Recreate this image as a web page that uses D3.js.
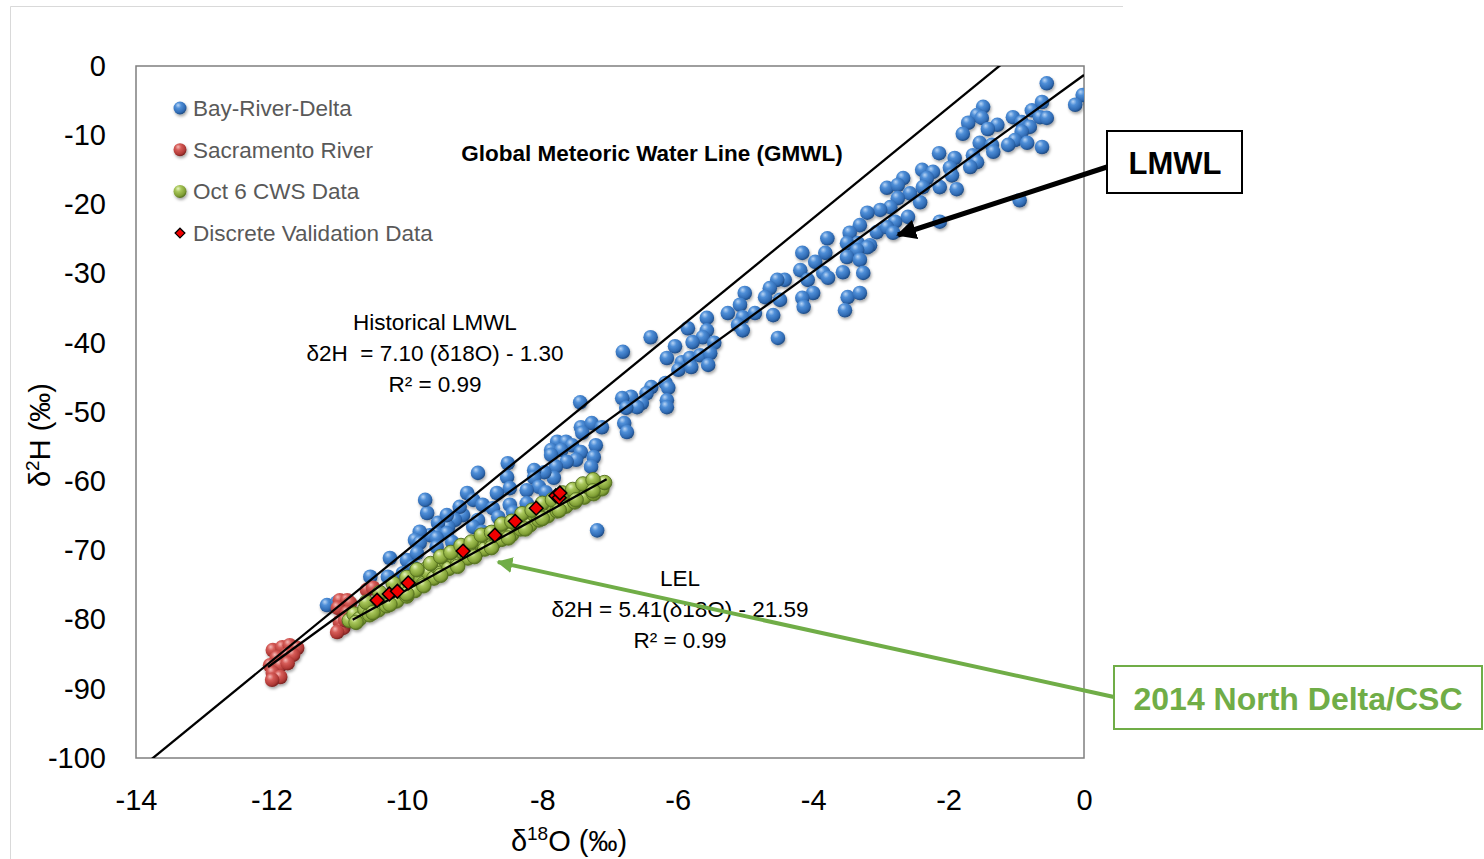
<!DOCTYPE html>
<html>
<head>
<meta charset="utf-8">
<script src="https://cdn.jsdelivr.net/npm/d3@7"></script>
<style>
  body { margin: 0; background: #fff; }
  text { font-family: "Liberation Sans", Arial, sans-serif; }
</style>
</head>
<body>
<script>
// Bay-River-Delta (blue)
var bayX = [-0.55,-0.02,-0.13,-1.49,-1.58,-1.51,-1.71,-1.79,-1.28,-1.42,-1.05,-0.77,-0.62,-0.65,-0.55,-0.92,-0.80,-0.92,-1.02,-1.12,-0.84,-0.62,-1.54,-1.36,-1.34,-1.64,-1.58,-1.68,-1.91,-1.98,-1.95,-2.14,-2.39,-2.23,-2.32,-2.67,-2.91,-2.75,-2.13,-2.38,-1.88,-2.57,-2.75,-2.42,-2.86,-3.01,-3.20,-2.60,-2.79,-3.31,-3.46,-3.06,-2.91,-2.82,-2.13,-0.95,-3.34,-3.16,-3.50,
  -3.20,-3.35,-3.50,-3.31,-3.26,-3.56,-3.79,-3.82,-3.97,-4.16,-4.19,-4.08,-3.85,-3.78,-4.00,-4.16,-4.14,-3.49,-3.31,-3.53,-4.42,-4.53,-4.64,-4.71,-4.49,-5.01,-5.08,-5.26,-5.04,-4.86,-5.11,-5.04,-4.59,-4.52,-5.57,-5.85,-5.57,-5.63,-5.78,-5.46,-6.04,-6.16,-5.94,-5.82,-5.67,-5.52,-5.99,-5.80,-5.55,-6.40,-6.81,-6.39,-6.18,-6.14,-6.46,-6.69,-6.82,-6.53,-6.16,-6.16,
  -7.44,-6.60,-6.76,-6.79,-6.75,-7.43,-7.27,-7.12,-7.41,-7.78,-7.65,-7.56,-7.87,-7.72,-7.43,-7.21,-7.24,-7.28,-7.50,-7.64,-7.87,-7.80,-7.83,-7.97,-8.12,-8.12,-8.05,-7.95,-8.23,-8.51,-8.52,-8.48,-8.95,-8.67,-9.11,-9.02,-8.88,-8.48,-8.23,-8.43,-8.73,-8.65,-8.95,-9.17,-9.22,-9.29,-9.39,-9.02,-8.89,-9.54,-9.70,-9.73,-9.56,-9.66,-7.19,
  -9.41,-9.81,-9.41,-9.88,-9.81,-9.56,-9.56,-9.33,-10.25,-10.00,-9.85,-9.91,-10.54,-10.28,-10.06,-11.18,-11.03,-10.91];
var bayY = [-2.5,-4.2,-5.6,-5.9,-7.1,-7.5,-8.2,-9.8,-8.5,-9.1,-7.4,-6.4,-5.2,-7.4,-7.5,-8.1,-8.8,-9.5,-10.7,-11.4,-11.1,-11.7,-11.1,-11.4,-12.4,-12.9,-13.9,-14.6,-13.3,-14.7,-15.8,-12.6,-15.0,-15.3,-16.2,-16.2,-17.6,-17.2,-17.5,-17.5,-17.8,-18.4,-19.1,-19.7,-20.4,-20.8,-21.2,-21.8,-22.5,-23.0,-24.1,-24.0,-23.3,-24.1,-22.5,-19.4,-25.6,-25.9,-25.6,
  -26.2,-26.6,-27.6,-28.0,-29.9,-29.8,-24.9,-27.0,-28.3,-27.0,-29.5,-30.9,-29.9,-30.6,-32.8,-33.5,-34.8,-33.4,-32.8,-35.3,-30.9,-30.9,-32.1,-33.4,-33.8,-32.8,-34.5,-35.7,-36.3,-35.7,-37.4,-38.2,-36.0,-39.3,-36.4,-37.9,-38.2,-39.2,-39.9,-40.0,-40.5,-42.2,-42.8,-42.2,-41.8,-41.5,-43.9,-43.5,-43.2,-39.2,-41.3,-46.4,-45.8,-46.5,-47.3,-47.8,-48.0,-48.7,-48.3,-49.3,
  -48.6,-49.3,-49.4,-51.6,-52.9,-52.2,-51.6,-52.2,-53.0,-54.3,-54.3,-54.8,-55.5,-55.5,-55.8,-54.8,-56.5,-57.9,-56.9,-57.2,-56.2,-57.9,-59.5,-58.7,-58.4,-59.5,-60.8,-61.6,-61.3,-57.4,-59.4,-61.0,-58.8,-61.7,-61.7,-62.7,-63.4,-63.4,-63.2,-64.5,-63.9,-65.2,-65.6,-64.9,-63.7,-65.6,-66.6,-66.6,-67.3,-66.0,-64.6,-62.7,-67.5,-67.8,-67.1,
  -64.9,-67.3,-67.5,-68.5,-68.9,-68.2,-69.5,-68.8,-71.1,-71.4,-70.4,-72.4,-73.8,-73.8,-73.3,-77.9,-77.5,-78.6];

// Sacramento River (red)
var sacX = [-11.98,-11.84,-11.73,-11.62,-11.92,-11.77,-11.68,-12.02,-11.87,-11.76,-11.98,-11.87,-11.99,
  -10.99,-10.88,-10.84,-11.02,-10.88,-10.99,-10.94,-11.03,-10.59,-10.50,-10.91];
var sacY = [-84.4,-84.0,-83.7,-84.1,-85.5,-85.1,-85.1,-86.6,-86.6,-86.3,-87.7,-88.3,-88.7,
  -77.2,-77.2,-77.6,-78.3,-79.0,-80.3,-81.2,-81.8,-75.7,-75.4,-80.1];

// Oct 6 CWS Data (green)
var cwsX = [-10.85,-10.78,-10.70,-10.62,-10.55,-10.50,-10.42,-10.35,-10.30,-10.22,-10.15,-10.08,-10.00,-9.95,-9.88,-9.80,-9.75,-9.70,-9.68,-9.60,-9.55,-9.50,-9.45,-9.42,-9.38,-9.30,-9.25,-9.18,-9.10,-9.05,-9.00,-8.98,-8.92,-8.85,-8.80,-8.78,-8.72,-8.65,-8.60,-8.52,-8.45,-8.40,-8.32,-8.25,-8.18,-8.12,-8.05,-7.98,-7.92,-7.85,-7.78,-7.72,-7.65,-7.58,-7.52,-7.45,-7.38,-7.30,-7.24,-7.18,-7.12,-7.08,
  -10.60,-10.40,-10.20,-10.00,-9.85,-9.65,-9.50,-9.35,-9.20,-9.05,-8.90,-8.75,-8.60,-8.45,-8.30,-8.15,-8.00,-7.85,-7.70,-7.55,-7.40,-7.25,
  -10.75,-10.50,-10.25,-10.00,-9.75,-9.50,-9.25,-9.00,-8.75,-8.50,-8.25,-8.00,-7.75,-7.50,-7.25];
var cwsY = [-80.1,-79.2,-79.9,-78.5,-79.3,-77.9,-78.6,-77.2,-78.0,-76.4,-77.3,-75.9,-76.6,-74.9,-75.8,-73.9,-74.8,-72.6,-73.2,-74.0,-72.4,-73.3,-71.0,-71.6,-72.6,-71.0,-71.9,-70.2,-71.1,-69.6,-68.9,-70.4,-68.9,-69.8,-67.7,-68.2,-69.0,-67.4,-68.4,-66.9,-67.7,-66.1,-66.9,-65.5,-66.3,-64.8,-65.6,-64.1,-65.0,-63.5,-64.3,-62.8,-63.6,-62.2,-63.0,-61.6,-62.3,-61.0,-61.8,-60.4,-61.1,-60.2,
  -77.5,-76.1,-74.8,-73.9,-72.8,-71.9,-70.9,-70.3,-69.3,-68.8,-67.8,-67.4,-66.2,-65.8,-64.7,-64.2,-63.2,-62.7,-61.7,-61.2,-60.4,-59.8,
  -80.4,-79.0,-77.8,-76.3,-75.1,-73.6,-72.3,-70.9,-69.6,-68.2,-66.9,-65.4,-64.2,-62.7,-61.4];

// Discrete Validation Data (red diamonds)
var valX = [-10.44,-10.26,-10.14,-9.98,-9.17,-8.70,-8.40,-8.09,-7.80,-7.75,-7.74];
var valY = [-77.2,-76.3,-75.9,-74.7,-70.1,-67.8,-65.8,-63.9,-62.1,-62.4,-61.7];

// regression lines: [slope, intercept, xStart, xEnd]
var gmwl = [8.0, 10.0, -14, 0];
var lmwl = [7.10, -1.30, -12.05, 0];
var lel = [5.41, -21.59, -10.8, -7.05];

var xTicks = [-14, -12, -10, -8, -6, -4, -2, 0];
var yTicks = [0, -10, -20, -30, -40, -50, -60, -70, -80, -90, -100];

var legendNames = ["Bay-River-Delta", "Sacramento River", "Oct 6 CWS Data", "Discrete Validation Data"];

var W = 1484, H = 859;
var margin = {top: 66, right: 400, bottom: 101, left: 136};
var width = W - margin.left - margin.right;   // 948
var height = H - margin.top - margin.bottom;  // 692

var svg = d3.select("body").append("svg")
    .attr("width", W)
    .attr("height", H);

var defs = svg.append("defs");

function sphere(id, c0, c1, c2, c3) {
    var gr = defs.append("radialGradient").attr("id", id)
        .attr("cx", "40%").attr("cy", "35%").attr("r", "65%")
        .attr("fx", "35%").attr("fy", "28%");
    gr.append("stop").attr("offset", "0%").attr("stop-color", c0);
    gr.append("stop").attr("offset", "35%").attr("stop-color", c1);
    gr.append("stop").attr("offset", "80%").attr("stop-color", c2);
    gr.append("stop").attr("offset", "100%").attr("stop-color", c3);
}
sphere("gBlue", "#b9d5f5", "#4f8fd8", "#2f6ab3", "#1f4a80");
sphere("gRed", "#f4b8b6", "#d65c58", "#b03936", "#7a2220");
sphere("gGreen", "#e6f3c0", "#a8c65a", "#809f35", "#56711f");

var shadow = defs.append("filter").attr("id", "shadow")
    .attr("x", "-50%").attr("y", "-50%").attr("width", "200%").attr("height", "200%");
shadow.append("feDropShadow").attr("dx", 1).attr("dy", 2)
    .attr("stdDeviation", 1.5).attr("flood-color", "#000").attr("flood-opacity", 0.35);

defs.append("clipPath").attr("id", "plotClip")
  .append("rect").attr("width", width).attr("height", height);

function arrowHead(id, color) {
    defs.append("marker").attr("id", id)
        .attr("viewBox", "0 0 10 10").attr("refX", 9).attr("refY", 5)
        .attr("markerWidth", 4).attr("markerHeight", 4)
        .attr("markerUnits", "strokeWidth")
        .attr("orient", "auto")
      .append("path").attr("d", "M0,0 L10,5 L0,10 Z").attr("fill", color);
}
arrowHead("arrBlack", "#000");
arrowHead("arrGreen", "#70ad47");

// outer frame (light)
svg.append("path")
    .attr("d", "M10.5," + H + " L10.5,6.5 L1123,6.5")
    .attr("fill", "none").attr("stroke", "#d9d9d9").attr("stroke-width", 1);

var g = svg.append("g")
    .attr("transform", "translate(" + margin.left + "," + margin.top + ")");

var x = d3.scaleLinear().domain([-14, 0]).range([0, width]);
var y = d3.scaleLinear().domain([-100, 0]).range([height, 0]);

var fmt = function(d) { return String(d); };   // plain hyphen minus like the original

// axes, labels only
var yAxis = d3.axisLeft(y).tickValues(yTicks).tickFormat(fmt).tickSize(0).tickPadding(30);
g.append("g").attr("class", "y axis").call(yAxis)
  .call(function(s) { s.select(".domain").remove(); })
  .selectAll("text")
    .style("font-family", "'Liberation Sans', Arial, sans-serif")
    .attr("font-size", "29px").attr("fill", "#000");

var xAxis = d3.axisBottom(x).tickValues(xTicks).tickFormat(fmt).tickSize(0).tickPadding(31);
g.append("g").attr("class", "x axis")
  .attr("transform", "translate(0," + height + ")")
  .call(xAxis)
  .call(function(s) { s.select(".domain").remove(); })
  .selectAll("text")
    .style("font-family", "'Liberation Sans', Arial, sans-serif")
    .attr("font-size", "29px").attr("fill", "#000");

// plot border
g.append("rect")
    .attr("width", width).attr("height", height)
    .attr("fill", "none").attr("stroke", "#7f7f7f").attr("stroke-width", 1.5);

var plot = g.append("g").attr("clip-path", "url(#plotClip)");

function dots(xs, ys, fill, stroke) {
    var pts = xs.map(function(v, i) { return {x: v, y: ys[i]}; });
    plot.append("g").attr("filter", "url(#shadow)")
      .selectAll("circle").data(pts).enter()
      .append("circle")
        .attr("cx", function(d) { return x(d.x); })
        .attr("cy", function(d) { return y(d.y); })
        .attr("r", 7.3)
        .attr("fill", fill)
        .attr("stroke", stroke)
        .attr("stroke-width", stroke === "none" ? 0 : 0.9);
}
dots(bayX, bayY, "url(#gBlue)", "none");
dots(sacX, sacY, "url(#gRed)", "none");
dots(cwsX, cwsY, "url(#gGreen)", "#55701f");

// regression lines
var line = d3.line().x(function(d) { return x(d[0]); }).y(function(d) { return y(d[1]); });
[gmwl, lmwl, lel].forEach(function(p) {
    var pts = [[p[2], p[0] * p[2] + p[1]], [p[3], p[0] * p[3] + p[1]]];
    plot.append("path").datum(pts)
        .attr("d", line)
        .attr("fill", "none").attr("stroke", "#000").attr("stroke-width", 2.3);
});

// validation diamonds
var vals = valX.map(function(v, i) { return {x: v, y: valY[i]}; });
plot.append("g").selectAll("path").data(vals).enter()
  .append("path")
    .attr("d", d3.symbol().type(d3.symbolDiamond2).size(120))
    .attr("transform", function(d) { return "translate(" + x(d.x) + "," + y(d.y) + ")"; })
    .attr("fill", "#f00000").attr("stroke", "#000").attr("stroke-width", 1.5);

// legend
var legend = g.append("g").attr("transform", "translate(44,42)");
var legendFill = ["url(#gBlue)", "url(#gRed)", "url(#gGreen)"];
legendNames.forEach(function(name, i) {
    var row = legend.append("g").attr("transform", "translate(0," + (i * 41.7) + ")");
    if (i < 3) {
        row.append("circle").attr("r", 6.5).attr("fill", legendFill[i])
            .attr("filter", "url(#shadow)");
    } else {
        row.append("path").attr("d", d3.symbol().type(d3.symbolDiamond2).size(60))
            .attr("fill", "#f00000").attr("stroke", "#000").attr("stroke-width", 1.3);
    }
    row.append("text").attr("x", 13).attr("y", 8)
        .attr("font-size", "22.5px").attr("fill", "#595959")
        .text(name);
});

// annotations inside plot
g.append("text").attr("x", 652 - margin.left).attr("y", 161 - margin.top)
    .attr("text-anchor", "middle").attr("font-size", "22.5px").attr("font-weight", "bold")
    .text("Global Meteoric Water Line (GMWL)");

var hist = ["Historical LMWL", "δ2H  = 7.10 (δ18O) - 1.30", "R² = 0.99"];
hist.forEach(function(t, i) {
    g.append("text").attr("x", 435 - margin.left).attr("y", 330 - margin.top + i * 31)
        .attr("text-anchor", "middle").attr("font-size", "22.5px")
        .attr("xml:space", "preserve")
        .text(t);
});
var lelText = ["LEL", "δ2H = 5.41(δ18O) - 21.59", "R² = 0.99"];
lelText.forEach(function(t, i) {
    g.append("text").attr("x", 680 - margin.left).attr("y", 586 - margin.top + i * 31)
        .attr("text-anchor", "middle").attr("font-size", "22.5px")
        .text(t);
});

// axis titles
svg.append("text")
    .attr("transform", "translate(50,435) rotate(-90)")
    .attr("text-anchor", "middle").attr("font-size", "29px")
    .call(function(t) {
        t.append("tspan").text("δ");
        t.append("tspan").attr("dy", -11).attr("font-size", "19px").text("2");
        t.append("tspan").attr("dy", 11).text("H (‰)");
    });
svg.append("text")
    .attr("x", 569).attr("y", 851)
    .attr("text-anchor", "middle").attr("font-size", "29px")
    .call(function(t) {
        t.append("tspan").text("δ");
        t.append("tspan").attr("dy", -11).attr("font-size", "19px").text("18");
        t.append("tspan").attr("dy", 11).text("O (‰)");
    });

// callout: LMWL
svg.append("line")
    .attr("x1", 1107).attr("y1", 167).attr("x2", 898).attr("y2", 235)
    .attr("stroke", "#000").attr("stroke-width", 5)
    .attr("marker-end", "url(#arrBlack)");
svg.append("rect").attr("x", 1107).attr("y", 131).attr("width", 135).attr("height", 62)
    .attr("fill", "#fff").attr("stroke", "#000").attr("stroke-width", 2);
svg.append("text").attr("x", 1175).attr("y", 174)
    .attr("text-anchor", "middle").attr("font-size", "31px").attr("font-weight", "bold")
    .text("LMWL");

// callout: 2014 North Delta/CSC
svg.append("line")
    .attr("x1", 1114).attr("y1", 697).attr("x2", 498).attr("y2", 562)
    .attr("stroke", "#70ad47").attr("stroke-width", 4)
    .attr("marker-end", "url(#arrGreen)");
svg.append("rect").attr("x", 1114).attr("y", 666).attr("width", 368).attr("height", 63)
    .attr("fill", "#fff").attr("stroke", "#70ad47").attr("stroke-width", 2);
svg.append("text").attr("x", 1298).attr("y", 710)
    .attr("text-anchor", "middle").attr("font-size", "32px").attr("font-weight", "bold")
    .attr("fill", "#70ad47")
    .text("2014 North Delta/CSC");
</script>
</body>
</html>
